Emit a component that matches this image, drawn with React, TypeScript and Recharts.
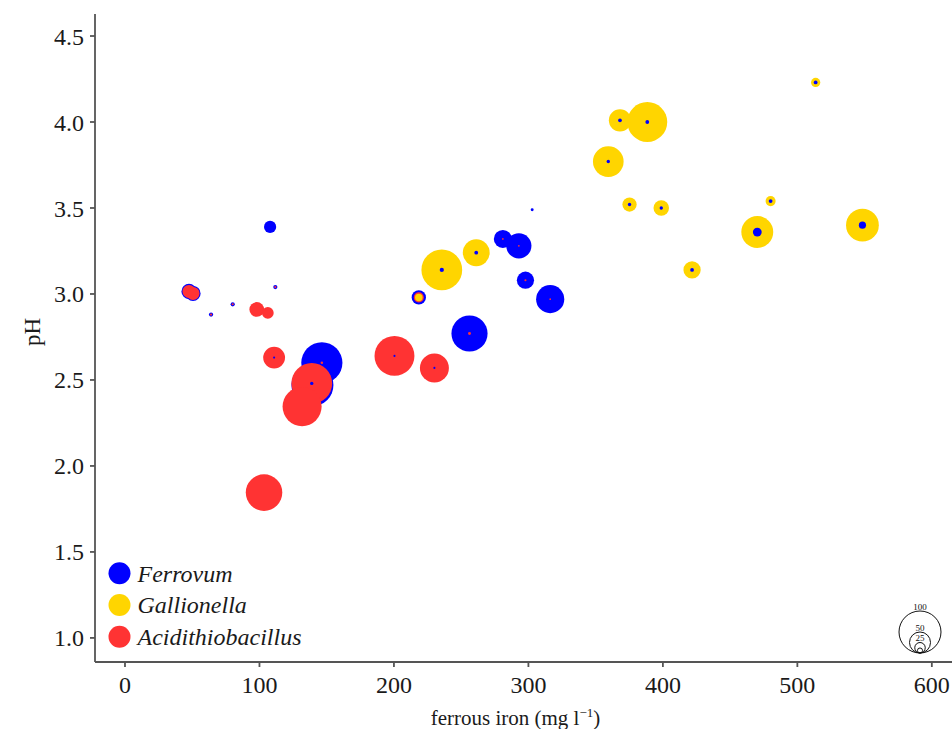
import { Scatter, ScatterChart, XAxis, YAxis, ZAxis } from "recharts";

// one entry per sample: ferrous iron (mg/l), pH and relative abundance of each genus
const iron = [
  513.6, 368.1, 388.4, 359.4, 375.2, 398.8, 480.1, 470.2, 548.4, 421.7, 235.6, 261.2, 218.5,
  107.9, 302.8, 281.0, 292.9, 297.8, 316.2, 256.2, 146.4, 139.4,
  138.9, 131.7, 103.4, 200.4, 230.1, 110.9, 98.0, 106.2, 47.6, 50.6, 64.0, 80.1, 111.8,
];
const pH = [
  4.23, 4.01, 4.0, 3.77, 3.52, 3.5, 3.54, 3.36, 3.4, 3.14, 3.14, 3.24, 2.98,
  3.39, 3.49, 3.32, 3.28, 3.08, 2.97, 2.77, 2.6, 2.47,
  2.48, 2.345, 1.845, 2.64, 2.57, 2.63, 2.91, 2.89, 3.015, 3.003, 2.88, 2.94, 3.04,
];
const ferrovum = [
  9, 9, 9, 8, 8, 8, 9, 21, 17, 9, 10, 9, 34,
  29, 7, 43, 60, 41, 67, 86, 98, 100,
  8, 0, 0, 5, 5, 5, 0, 0, 36, 36, 10, 10, 10,
];
const gallionella = [
  22, 53, 95, 73, 34, 37, 24, 76, 78, 41, 97, 64, 18,
  0, 0, 0, 0, 0, 0, 0, 0, 0,
  0, 0, 0, 0, 0, 0, 0, 0, 0, 0, 0, 0, 0,
];
const acidithiobacillus = [
  0, 0, 0, 0, 0, 0, 0, 0, 0, 0, 0, 0, 24,
  0, 0, 4, 4, 5, 4, 7, 6, 0,
  97, 93, 87, 95, 69, 52, 35, 28, 31, 31, 5, 5, 5,
];

const ironTicks = [0, 100, 200, 300, 400, 500, 600];
const pHTicks = [1.0, 1.5, 2.0, 2.5, 3.0, 3.5, 4.0, 4.5];
const sizeKeys = [100, 50, 25, 12];
const sizeLabels = ["100", "50", "25", ""];

const MAX_R = 21; // radius of a 100 bubble
const FONT = "'Liberation Serif', 'Times New Roman', serif";
const INK = "#1a1a1a";

const species = [
  { name: "Ferrovum", color: "#0000ff", values: ferrovum },
  { name: "Gallionella", color: "#ffd500", values: gallionella },
  { name: "Acidithiobacillus", color: "#ff3333", values: acidithiobacillus },
];

// biggest bubbles first so the small ones stay visible on top
const bubbles = iron
  .flatMap((x, i) =>
    species
      .filter((s) => s.values[i] > 0)
      .map((s) => ({ x, y: pH[i], z: s.values[i], color: s.color }))
  )
  .sort((a, b) => b.z - a.z);

const Bubble = (props: any) => (
  <circle cx={props.cx} cy={props.cy} r={props.size} fill={props.payload.color} />
);

const IronLabel = ({ viewBox }: any) => (
  <text
    x={viewBox.x + viewBox.width / 2 - 8}
    y={viewBox.y + viewBox.height - 4}
    textAnchor="middle"
    fontSize={21}
    fontFamily={FONT}
    fill={INK}
  >
    ferrous iron (mg l
    <tspan fontSize={13} dy={-8}>
      −1
    </tspan>
    <tspan dy={8}>)</tspan>
  </text>
);

function Legends() {
  const cx = 920;
  const base = 653;
  return (
    <svg
      width={952}
      height={729}
      style={{ position: "absolute", left: 0, top: 0, pointerEvents: "none" }}
    >
      {species.map((s, i) => (
        <g key={s.name}>
          <circle cx={119.5} cy={573.3 + i * 31.7} r={11} fill={s.color} />
          <text
            x={137.5}
            y={581.5 + i * 31.7}
            fontSize={24}
            fontStyle="italic"
            fontFamily={FONT}
            fill={INK}
          >
            {s.name}
          </text>
        </g>
      ))}
      {sizeKeys.map((v, i) => {
        const r = (v / 100) * MAX_R;
        return (
          <g key={v}>
            <circle cx={cx} cy={base - r} r={r} fill="none" stroke="#111" strokeWidth={1} />
            {sizeLabels[i] && (
              <text
                x={cx}
                y={base - 2 * r - 1.5}
                fontSize={9}
                textAnchor="middle"
                fontFamily={FONT}
                fill="#111"
              >
                {sizeLabels[i]}
              </text>
            )}
          </g>
        );
      })}
    </svg>
  );
}

export default function App() {
  return (
    <div style={{ position: "absolute", left: 0, top: 0, width: 952, height: 729, background: "#fff" }}>
      <ScatterChart width={952} height={729} margin={{ top: 14, right: 0, bottom: 0, left: 0 }}>
        <XAxis
          type="number"
          dataKey="x"
          domain={[-22.3, 615]}
          ticks={ironTicks}
          allowDataOverflow
          height={67}
          stroke="#555"
          strokeWidth={1.8}
          tickSize={5}
          tickMargin={9}
          tick={{ fill: INK, fontSize: 24, fontFamily: FONT }}
          label={<IronLabel />}
        />
        <YAxis
          type="number"
          dataKey="y"
          domain={[0.86, 4.628]}
          ticks={pHTicks}
          allowDataOverflow
          width={95}
          stroke="#555"
          strokeWidth={1.8}
          tickSize={5}
          tickMargin={6}
          tickFormatter={(v: number) => v.toFixed(1)}
          tick={{ fill: INK, fontSize: 24, fontFamily: FONT }}
          label={{
            value: "pH",
            angle: -90,
            position: "center",
            dx: -16,
            dy: -6,
            fill: INK,
            fontSize: 23,
            fontFamily: FONT,
          }}
        />
        <ZAxis type="number" dataKey="z" domain={[0, 100]} range={[0, MAX_R]} />
        <Scatter data={bubbles} shape={Bubble} isAnimationActive={false} />
      </ScatterChart>
      <Legends />
    </div>
  );
}
